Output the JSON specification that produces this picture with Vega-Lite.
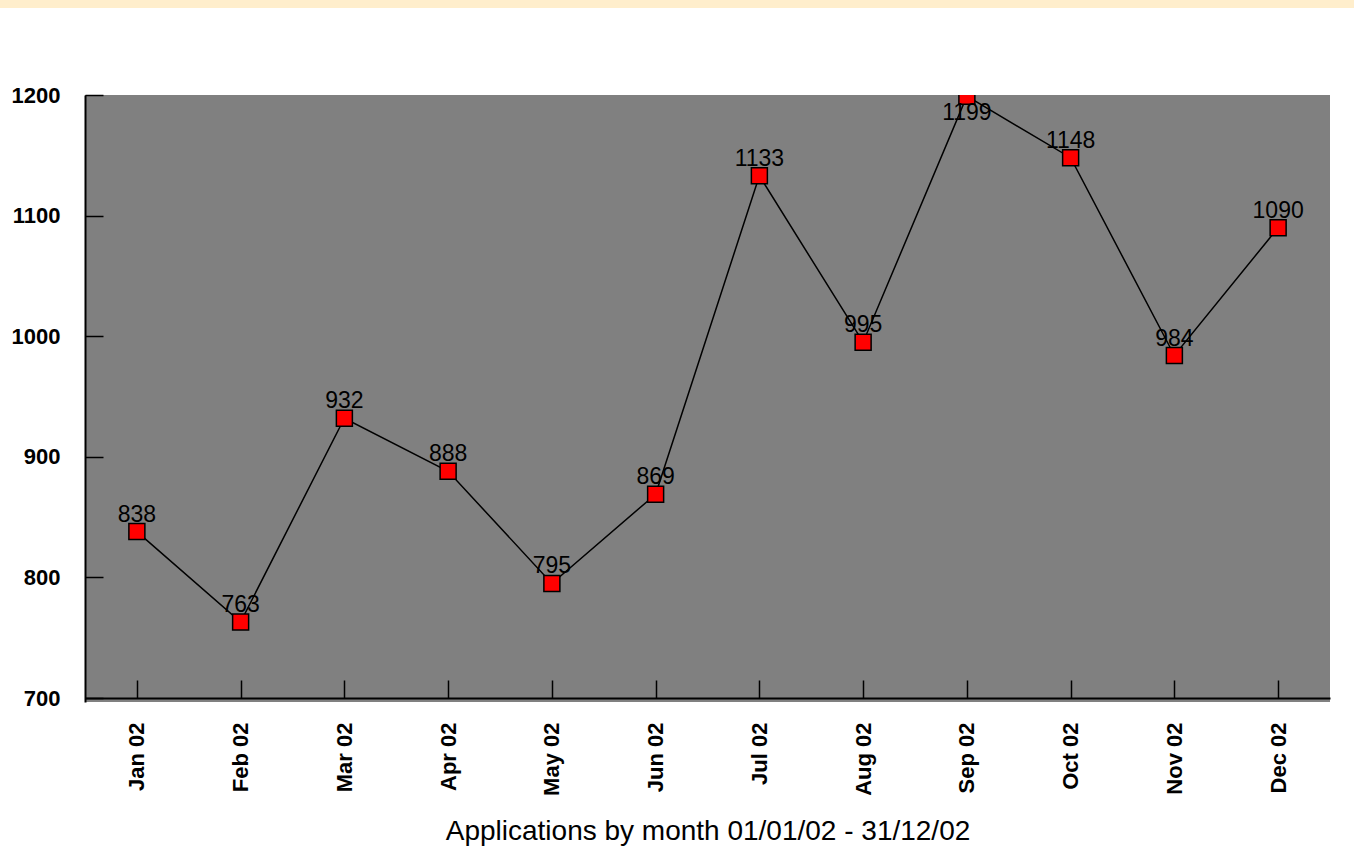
{
  "$schema": "https://vega.github.io/schema/vega-lite/v6.json",
  "padding": 0,
  "background": "white",
  "spacing": 87,
  "bounds": "flush",
  "center": true,
  "config": {"font": "Liberation Sans", "view": {"stroke": null}},
  "datasets": {
    "apps": [
      {"month": "Jan 02", "value": 838},
      {"month": "Feb 02", "value": 763},
      {"month": "Mar 02", "value": 932},
      {"month": "Apr 02", "value": 888},
      {"month": "May 02", "value": 795},
      {"month": "Jun 02", "value": 869},
      {"month": "Jul 02", "value": 1133},
      {"month": "Aug 02", "value": 995},
      {"month": "Sep 02", "value": 1199},
      {"month": "Oct 02", "value": 1148},
      {"month": "Nov 02", "value": 984},
      {"month": "Dec 02", "value": 1090}
    ]
  },
  "vconcat": [
    {
      "width": 1415,
      "height": 8,
      "data": {"values": [{"band": "top"}]},
      "view": {"fill": "#FFEECC", "stroke": null},
      "mark": {"type": "rect", "color": "#FFEECC"},
      "encoding": {}
    },
    {
      "width": 1245,
      "height": 607,
      "data": {"name": "apps"},
      "view": {"fill": "#808080", "stroke": null},
      "encoding": {
        "x": {
          "field": "month",
          "type": "ordinal",
          "sort": null,
          "scale": {"type": "point", "padding": 0.5},
          "axis": {
            "title": "Applications by month 01/01/02 - 31/12/02",
            "titleFontSize": 28,
            "titleFontWeight": "normal",
            "titleColor": "black",
            "titlePadding": 22,
            "labelAngle": -90,
            "labelFontSize": 22,
            "labelFontWeight": "bold",
            "labelColor": "black",
            "labelPadding": 42,
            "labelFlush": false,
            "tickSize": -18,
            "tickColor": "black",
            "tickWidth": 1.5,
            "domainColor": "black",
            "domainWidth": 2,
            "offset": -4,
            "grid": false
          }
        },
        "y": {
          "field": "value",
          "type": "quantitative",
          "scale": {"domain": [696.7, 1200], "nice": false, "zero": false},
          "axis": {
            "title": null,
            "values": [700, 800, 900, 1000, 1100, 1200],
            "format": "d",
            "labelFontSize": 22,
            "labelFontWeight": "bold",
            "labelColor": "black",
            "labelPadding": 43,
            "labelFlush": false,
            "tickSize": -18,
            "tickColor": "black",
            "tickWidth": 1.5,
            "domainColor": "black",
            "domainWidth": 2,
            "grid": false
          }
        }
      },
      "layer": [
        {"mark": {"type": "line", "color": "black", "strokeWidth": 1.5}},
        {
          "mark": {
            "type": "point",
            "shape": "square",
            "size": 256,
            "filled": true,
            "fill": "red",
            "stroke": "black",
            "strokeWidth": 1.5,
            "opacity": 1,
            "clip": true
          }
        },
        {
          "transform": [{"filter": "datum.month !== 'Sep 02'"}],
          "mark": {"type": "text", "dy": -10, "baseline": "alphabetic", "align": "center", "fontSize": 23, "color": "black"},
          "encoding": {"text": {"field": "value", "type": "quantitative"}}
        },
        {
          "transform": [{"filter": "datum.month === 'Sep 02'"}],
          "mark": {"type": "text", "dy": 24, "baseline": "alphabetic", "align": "center", "fontSize": 23, "color": "black"},
          "encoding": {"text": {"field": "value", "type": "quantitative"}}
        }
      ]
    }
  ]
}
